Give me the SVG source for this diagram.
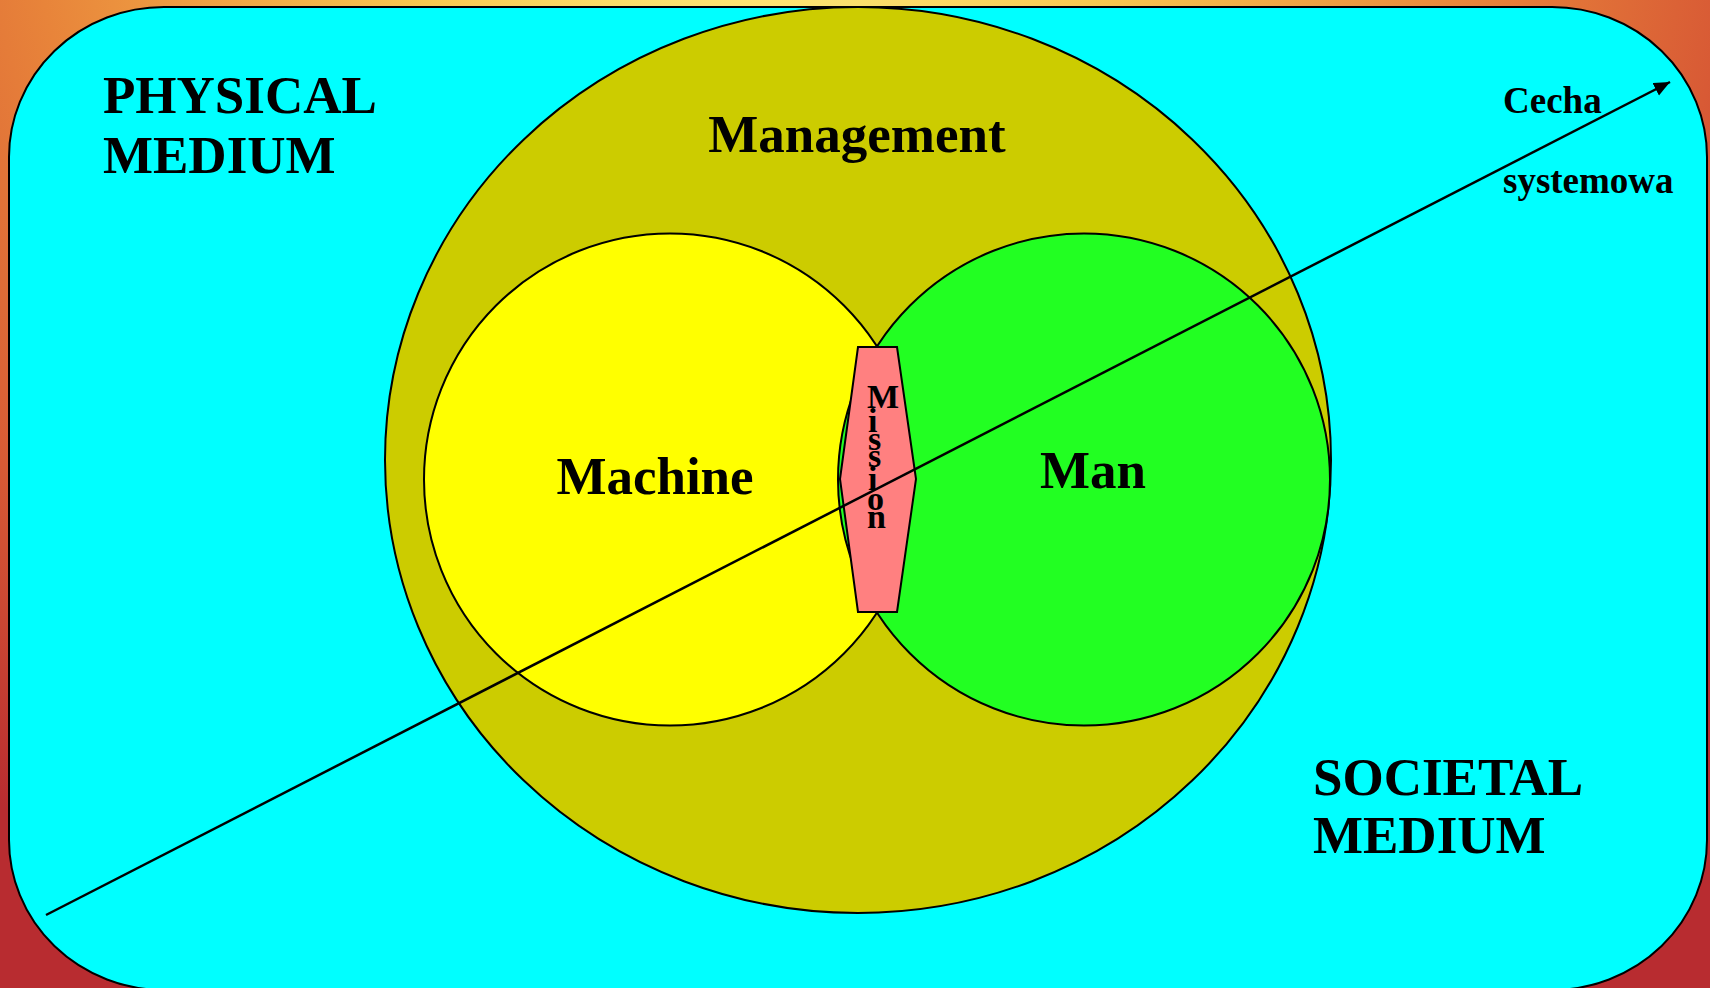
<svg xmlns="http://www.w3.org/2000/svg" width="1710" height="988" viewBox="0 0 1710 988">
<style>
.shape{stroke:#000;stroke-width:2}
.t{font-family:"Liberation Serif","Times New Roman",serif;font-weight:bold;fill:#000}
.big{font-size:53px}
.small{font-size:37px}
.ms{font-size:34px}
</style>
<defs>
<radialGradient id="bg" cx="760" cy="-150" r="1220" gradientUnits="userSpaceOnUse">
<stop offset="0" stop-color="#fff68a"/>
<stop offset="0.3" stop-color="#f8c850"/>
<stop offset="0.6" stop-color="#e8843a"/>
<stop offset="0.8" stop-color="#d85a35"/>
<stop offset="1" stop-color="#b82c30"/>
</radialGradient>
<marker id="ah" markerUnits="userSpaceOnUse" markerWidth="20" markerHeight="16" refX="16" refY="7" orient="auto">
<path d="M0,0 L16,7 L0,14 Z" fill="#000"/>
</marker>
</defs>
<rect x="0" y="0" width="1710" height="988" fill="url(#bg)"/>
<g id="physical-medium">
<rect class="shape" x="9" y="7" width="1698" height="983" rx="155" ry="150" fill="#00ffff"/>
<text class="t big" x="103" y="113">PHYSICAL</text>
<text class="t big" x="103" y="173">MEDIUM</text>
</g>
<g id="management">
<ellipse class="shape" cx="858" cy="460" rx="473" ry="453" fill="#cccc00"/>
<text class="t big" x="857" y="152" text-anchor="middle">Management</text>
</g>
<g id="machine">
<circle class="shape" cx="670" cy="479.5" r="246" fill="#ffff00"/>
<text class="t big" x="655" y="494" text-anchor="middle">Machine</text>
</g>
<g id="man">
<circle class="shape" cx="1084" cy="479.5" r="246" fill="#22ff22"/>
<text class="t big" x="1093" y="488" text-anchor="middle">Man</text>
</g>
<g id="mission">
<polygon class="shape" points="858,347 897,347 916,479 897,612 858,612 840,479" fill="#ff8080"/>
<text class="t ms" x="867">
<tspan x="867" y="408">M</tspan>
<tspan x="868" y="432">i</tspan>
<tspan x="868" y="450">s</tspan>
<tspan x="868" y="467">s</tspan>
<tspan x="868" y="490">i</tspan>
<tspan x="867" y="510">o</tspan>
<tspan x="867" y="528">n</tspan>
</text>
</g>
<g id="connectors">
<line x1="46" y1="915" x2="1670" y2="82" stroke="#000" stroke-width="2.5" marker-end="url(#ah)"/>
</g>
<g id="cecha-systemowa">
<text class="t small" x="1503" y="113">Cecha</text>
<text class="t small" x="1503" y="193">systemowa</text>
</g>
<g id="societal-medium">
<text class="t big" x="1313" y="795">SOCIETAL</text>
<text class="t big" x="1313" y="853">MEDIUM</text>
</g>
</svg>
